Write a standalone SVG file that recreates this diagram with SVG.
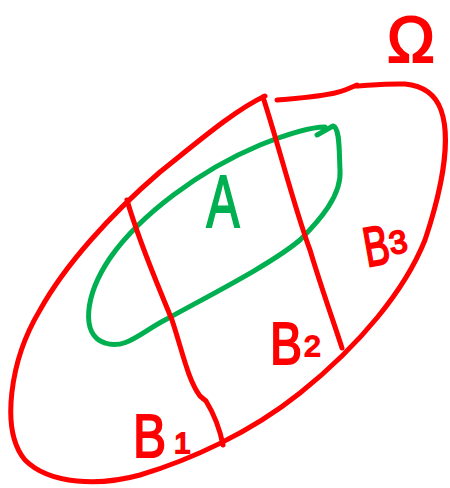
<svg xmlns="http://www.w3.org/2000/svg" width="450" height="488" viewBox="0 0 450 488">
<style>
.r{fill:none;stroke:#ff0000;stroke-width:5;stroke-linecap:round;stroke-linejoin:round}
.g{fill:none;stroke:#00b050;stroke-width:5;stroke-linecap:round;stroke-linejoin:round}
.tr{font-family:"Liberation Sans",Arial,sans-serif;fill:#ff0000;stroke:#ff0000;stroke-width:2}
.tg{font-family:"Liberation Sans",Arial,sans-serif;fill:#00b050;stroke:#00b050;stroke-width:2}
</style>
<rect width="450" height="488" fill="#ffffff"/>
<g id="omega">
<path class="r" d="M277,100 C300,98 330,96 345,90 L357,85 C350,88 380,83 405,84 C425,86 436,96 441,110 C450,135 445,180 425,240 C405,290 360,345 300,393 C250,433 190,460 140,475 C100,486 50,485 25,460 C0,430 10,360 40,310 C65,265 110,215 160,172 C200,140 235,110 265,96"/>
<text class="tr" x="411" y="62" font-size="64" text-anchor="middle">Ω</text>
</g>
<g id="A">
<path class="g" d="M317,135 L333,126 C340,128 339,150 340,170 C342,195 320,220 300,240 C270,265 210,295 165,320 C140,333 125,350 105,343 C80,335 85,295 110,258 C140,215 200,170 260,145 C290,133 310,127 325,127"/>
<text class="tg" transform="translate(223,227) scale(0.66,1)" font-size="75" text-anchor="middle">A</text>
</g>
<g id="connectors">
<path id="div1" class="r" d="M127,200 C140,245 160,290 172,320 C182,350 188,380 200,396 L206,401 C214,414 220,430 223,445"/>
<path id="div2" class="r" d="M263,97 C280,150 295,210 310,250 C322,290 333,320 342,348"/>
</g>
<g id="B1">
<text class="tr" transform="translate(133,457) scale(0.8,1)" font-size="62">B</text>
<text class="tr" x="174" y="453" font-size="30">1</text>
</g>
<g id="B2">
<text class="tr" transform="translate(270,364) scale(0.8,1)" font-size="60">B</text>
<text class="tr" x="304" y="356" font-size="30">2</text>
</g>
<g id="B3">
<g transform="translate(367,267) rotate(-10)">
<text class="tr" transform="scale(0.68,1)" font-size="56">B</text>
<text class="tr" x="26" y="-8" font-size="32">3</text>
</g>
</g>
</svg>
